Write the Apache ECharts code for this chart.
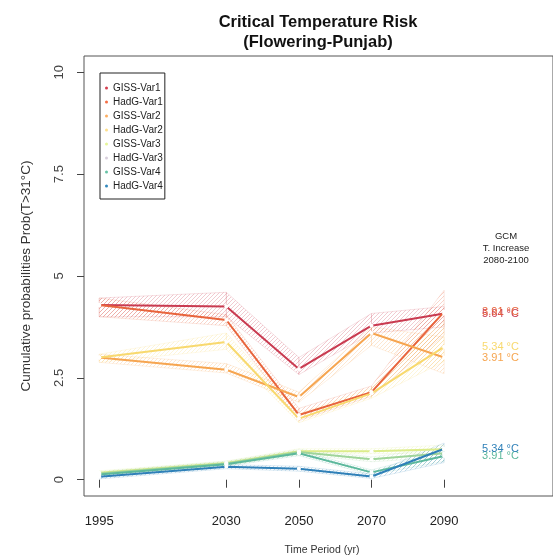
<!DOCTYPE html>
<html><head><meta charset="utf-8">
<script src="https://cdn.jsdelivr.net/npm/echarts@6/dist/echarts.min.js"></script>
<style>html,body{margin:0;padding:0;background:#fff}#c{width:553px;height:556px}</style>
</head><body><div id="c"></div>
<script>
// ---- data ----
const years = [1995, 2030, 2050, 2070, 2090];
const seriesNames = ['GISS-Var1','HadG-Var1','GISS-Var2','HadG-Var2','GISS-Var3','HadG-Var3','GISS-Var4','HadG-Var4'];
const gissVar1 = [4.29, 4.25, 2.72, 3.78, 4.08];
const hadgVar1 = [4.29, 3.92, 1.59, 2.15, 4.12];
const gissVar2 = [3.00, 2.70, 2.03, 3.60, 3.00];
const hadgVar2 = [3.00, 3.38, 1.50, 2.12, 3.26];
const gissVar3 = [0.17, 0.41, 0.70, 0.70, 0.75];
const hadgVar3 = [0.15, 0.40, 0.68, 0.50, 0.65];
const gissVar4 = [0.13, 0.38, 0.65, 0.18, 0.58];
const hadgVar4 = [0.07, 0.32, 0.27, 0.08, 0.76];
// uncertainty band bounds
const gissVar1Lo = [4.00, 4.00, 2.58, 3.60, 3.75];
const gissVar1Hi = [4.46, 4.60, 3.00, 4.08, 4.25];
const hadgVar1Lo = [4.00, 3.78, 1.45, 2.05, 3.55];
const hadgVar1Hi = [4.46, 4.05, 1.75, 2.30, 4.65];
const gissVar2Lo = [2.88, 2.62, 1.90, 3.30, 2.60];
const gissVar2Hi = [3.08, 2.85, 2.15, 3.75, 3.50];
const hadgVar2Lo = [2.88, 3.20, 1.40, 2.00, 2.90];
const hadgVar2Hi = [3.08, 3.60, 1.62, 2.25, 3.90];
const gissVar3Lo = [0.12, 0.36, 0.64, 0.64, 0.65];
const gissVar3Hi = [0.22, 0.46, 0.76, 0.76, 0.85];
const hadgVar3Lo = [0.10, 0.35, 0.62, 0.44, 0.55];
const hadgVar3Hi = [0.20, 0.45, 0.74, 0.56, 0.78];
const gissVar4Lo = [0.08, 0.33, 0.59, 0.12, 0.45];
const gissVar4Hi = [0.18, 0.43, 0.71, 0.24, 0.70];
const hadgVar4Lo = [0.02, 0.27, 0.21, 0.03, 0.42];
const hadgVar4Hi = [0.12, 0.37, 0.33, 0.14, 0.90];
const endLabels = ['5.64 °C','3.91 °C','3.91 °C','5.34 °C','','','3.91 °C','5.34 °C'];
const xTicks = [1995, 2030, 2050, 2070, 2090];
const yTicks = [0, 2.5, 5, 7.5, 10];
const gcmHeader = ['GCM', 'T. Increase', '2080-2100'];

// ---- styles ----
const colors = ['#c93a50','#e8643c','#f6a550','#f8d96e','#dcec8a','#9fd49a','#5cb89c','#2f80b8'];
const legendColors = ['#d53e4f','#f46d43','#fdae61','#fee08b','#e6f598','#d8cfdc','#66c2a5','#3288bd'];
const FONT = 'Liberation Sans, Arial, sans-serif';

const values = [gissVar1,hadgVar1,gissVar2,hadgVar2,gissVar3,hadgVar3,gissVar4,hadgVar4];
const lows = [gissVar1Lo,hadgVar1Lo,gissVar2Lo,hadgVar2Lo,gissVar3Lo,hadgVar3Lo,gissVar4Lo,hadgVar4Lo];
const highs = [gissVar1Hi,hadgVar1Hi,gissVar2Hi,hadgVar2Hi,gissVar3Hi,hadgVar3Hi,gissVar4Hi,hadgVar4Hi];

function rgba(hex, a){
  const n = parseInt(hex.slice(1),16);
  return 'rgba('+((n>>16)&255)+','+((n>>8)&255)+','+(n&255)+','+a+')';
}
function hatch(hex){
  const c = document.createElement('canvas');
  c.width = 4; c.height = 4;
  const ctx = c.getContext('2d');
  ctx.strokeStyle = rgba(hex, 0.38);
  ctx.lineWidth = 0.7;
  ctx.beginPath();
  ctx.moveTo(0,4); ctx.lineTo(4,0);
  ctx.moveTo(-1,1); ctx.lineTo(1,-1);
  ctx.moveTo(3,5); ctx.lineTo(5,3);
  ctx.stroke();
  return {image: c, repeat: 'repeat'};
}

const series = [];
values.forEach((vals, k) => {
  const segs = [];
  for (let i = 0; i < years.length - 1; i++) {
    segs.push([years[i], lows[k][i], highs[k][i], years[i+1], lows[k][i+1], highs[k][i+1]]);
  }
  const pat = hatch(colors[k]);
  const stroke = rgba(colors[k], 0.22);
  series.push({
    type: 'custom', name: 'band-' + seriesNames[k], silent: true, z: 1,
    encode: {x: [0, 3], y: [1, 2, 4, 5]},
    data: segs,
    renderItem: function(params, api){
      const a = api.coord([api.value(0), api.value(1)]);
      const b = api.coord([api.value(0), api.value(2)]);
      const c = api.coord([api.value(3), api.value(4)]);
      const d = api.coord([api.value(3), api.value(5)]);
      return {type: 'polygon', shape: {points: [a, c, d, b]},
        style: {fill: pat, stroke: stroke, lineWidth: 0.7}};
    }
  });
});
values.forEach((vals, k) => {
  series.push({
    type: 'line', name: seriesNames[k], z: 3,
    data: years.map((y, i) => [y, vals[i]]),
    lineStyle: {width: 2, color: colors[k]},
    symbol: 'circle', symbolSize: 4, showSymbol: true,
    itemStyle: {color: '#fff', borderWidth: 0},
    endLabel: {show: endLabels[k] !== '', formatter: endLabels[k], color: colors[k],
      fontSize: 11, fontFamily: FONT, distance: 38},
    emphasis: {disabled: true}
  });
});

const chart = echarts.init(document.getElementById('c'), null, {renderer: 'canvas'});
chart.setOption({
  animation: false,
  backgroundColor: '#fff',
  grid: {left: 84, top: 56, bottom: 60, right: -30, show: true, borderColor: '#555', borderWidth: 1, backgroundColor: 'transparent'},
  xAxis: {
    type: 'value', min: 1990.8, max: 2120,
    axisLine: {show: false}, splitLine: {show: false},
    axisTick: {show: true, length: 8, customValues: xTicks, lineStyle: {color: '#444'}},
    axisLabel: {customValues: xTicks, fontSize: 13, color: '#222', fontFamily: FONT, margin: 18, lineHeight: 14,
      formatter: v => String(v)}
  },
  yAxis: {
    type: 'value', min: -0.4, max: 10.4,
    axisLine: {show: false}, splitLine: {show: false},
    axisTick: {show: true, length: 7, customValues: yTicks, lineStyle: {color: '#444'}},
    axisLabel: {customValues: yTicks, rotate: 90, fontSize: 13, color: '#444', fontFamily: FONT, margin: 18,
      formatter: v => String(v)}
  },
  legend: {
    orient: 'vertical', left: 100, top: 73,
    data: seriesNames.map((n, i) => ({name: n, itemStyle: {color: legendColors[i]}})),
    icon: 'circle', itemWidth: 3, itemHeight: 3, itemGap: 2,
    padding: [9, 2, 7, 5], borderColor: '#222', borderWidth: 1, borderRadius: 0,
    textStyle: {fontSize: 10, color: '#222', lineHeight: 12, fontFamily: FONT},
    selectedMode: false
  },
  graphic: [
    {type: 'text', x: 318, y: 22, style: {text: 'Critical Temperature Risk', font: 'bold 16.5px ' + FONT, fill: '#111', textAlign: 'center', textVerticalAlign: 'middle'}},
    {type: 'text', x: 318, y: 42, style: {text: '(Flowering-Punjab)', font: 'bold 16.5px ' + FONT, fill: '#111', textAlign: 'center', textVerticalAlign: 'middle'}},
    {type: 'text', x: 322, y: 550, style: {text: 'Time Period (yr)', font: '10.5px ' + FONT, fill: '#333', textAlign: 'center', textVerticalAlign: 'middle'}},
    {type: 'text', x: 26, y: 276, rotation: Math.PI / 2, style: {text: 'Cumulative probabilities Prob(T>31°C)', font: '13.5px ' + FONT, fill: '#333', textAlign: 'center', textVerticalAlign: 'middle'}},
    {type: 'text', x: 506, y: 236, style: {text: gcmHeader[0], font: '9.5px ' + FONT, fill: '#222', textAlign: 'center', textVerticalAlign: 'middle'}},
    {type: 'text', x: 506, y: 248, style: {text: gcmHeader[1], font: '9.5px ' + FONT, fill: '#222', textAlign: 'center', textVerticalAlign: 'middle'}},
    {type: 'text', x: 506, y: 260, style: {text: gcmHeader[2], font: '9.5px ' + FONT, fill: '#222', textAlign: 'center', textVerticalAlign: 'middle'}}
  ],
  series: series
});
</script>
</body></html>
